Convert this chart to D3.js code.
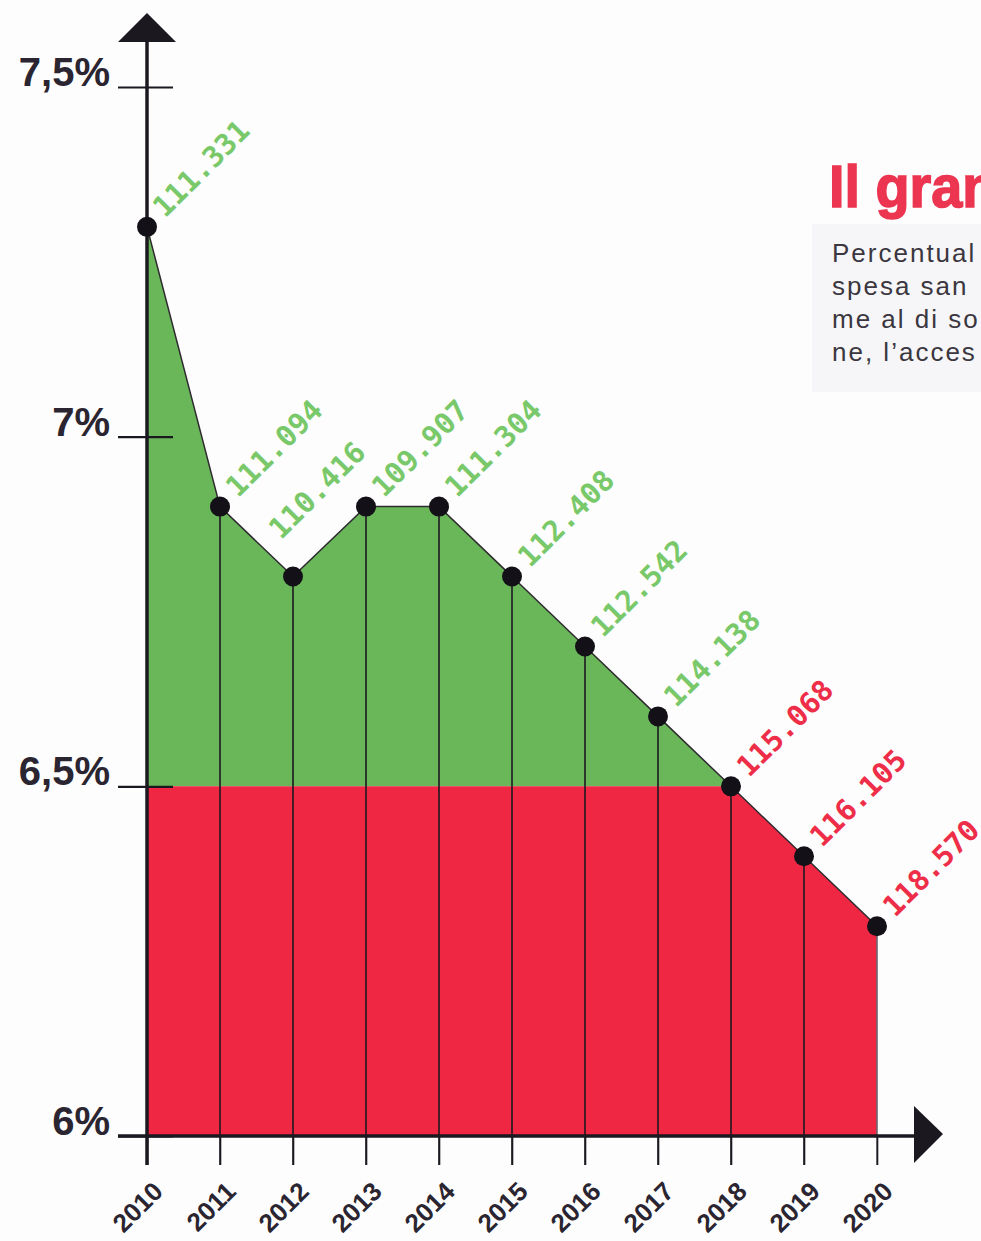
<!DOCTYPE html>
<html>
<head>
<meta charset="utf-8">
<script src="https://cdn.jsdelivr.net/npm/d3@7"></script>
<style>
  html, body { margin: 0; padding: 0; background: #fdfdfd; }
  svg { display: block; }
</style>
</head>
<body>
<svg id="chart" width="981" height="1241"></svg>
<script>
// ---- data ----
const years = ["2010","2011","2012","2013","2014","2015","2016","2017","2018","2019","2020"];
const shares = [7.3, 6.9, 6.8, 6.9, 6.9, 6.8, 6.7, 6.6, 6.5, 6.4, 6.3];
const amounts = ["111.331","111.094","110.416","109.907","111.304","112.408","112.542","114.138","115.068","116.105","118.570"];
const yTicks = [6, 6.5, 7, 7.5];
const yTickLabels = ["6%", "6,5%", "7%", "7,5%"];
const threshold = 6.5;
const titleText = "Il gran";
const subtitleLines = ["Percentual", "spesa san", "me al di so", "ne, l\u2019acces"];

// ---- style ----
const GREEN = "#69b759", RED = "#ef2743";
const GREEN_TXT = "#79c96b", RED_TXT = "#ee2e48";
const INK = "#1c1820";

const svg = d3.select("#chart");
const x = d3.scalePoint().domain(years).range([147, 877]).padding(0);
const y = d3.scaleLinear().domain([6, 7.5]).range([1136, 87]);
const data = years.map((yr, i) => ({ yr, v: shares[i], amt: amounts[i] }));

// faint panel behind subtitle
svg.append("rect").attr("x", 812).attr("y", 224).attr("width", 169).attr("height", 168).attr("fill", "#f6f6f8");

// title & subtitle
svg.append("text").attr("transform", "translate(829,207) scale(0.93,1)")
  .attr("font-family", "'Liberation Sans', Arial, sans-serif")
  .attr("font-weight", "bold").attr("font-size", 60).attr("fill", "#ec3550")
  .attr("stroke", "#ec3550").attr("stroke-width", 1.6)
  .text(titleText);
svg.append("g").selectAll("text").data(subtitleLines).join("text")
  .attr("x", 832).attr("y", (d, i) => 262 + i * 33)
  .attr("font-family", "'Liberation Sans', Arial, sans-serif").attr("font-size", 26)
  .attr("letter-spacing", 2.0).attr("fill", "#3b3640")
  .text(d => d);

// area fills clipped at threshold
const defs = svg.append("defs");
defs.append("clipPath").attr("id", "clipTop").append("rect")
  .attr("x", 0).attr("y", 0).attr("width", 981).attr("height", y(threshold));
defs.append("clipPath").attr("id", "clipBot").append("rect")
  .attr("x", 0).attr("y", y(threshold)).attr("width", 981).attr("height", y(6) - y(threshold));

const area = d3.area().x(d => x(d.yr)).y0(y(6)).y1(d => y(d.v));
svg.append("path").datum(data).attr("d", area).attr("fill", GREEN).attr("clip-path", "url(#clipTop)");
svg.append("path").datum(data).attr("d", area).attr("fill", RED).attr("clip-path", "url(#clipBot)");

// top line
svg.append("path").datum(data)
  .attr("d", d3.line().x(d => x(d.yr)).y(d => y(d.v)))
  .attr("fill", "none").attr("stroke", "#2e2a30").attr("stroke-width", 1.5);

// drop lines
svg.append("g").selectAll("line").data(data).join("line")
  .attr("x1", d => x(d.yr)).attr("x2", d => x(d.yr))
  .attr("y1", d => y(d.v)).attr("y2", y(6) + 29)
  .attr("stroke", (d, i) => i === data.length - 1 ? "#6a6670" : INK)
  .attr("stroke-width", 1.6);

// y axis
const yAxis = d3.axisLeft(y).tickValues(yTicks)
  .tickFormat((d, i) => yTickLabels[i]).tickSize(0);
const gy = svg.append("g").attr("transform", `translate(${x(years[0])},0)`).call(yAxis);
gy.select(".domain").remove();
gy.selectAll(".tick line").attr("x1", -29).attr("x2", 26).attr("stroke", INK).attr("stroke-width", 2.2);
gy.selectAll(".tick text")
  .attr("x", -37).attr("dy", "-0.04em")
  .attr("font-family", "'Liberation Sans', Arial, sans-serif")
  .attr("font-weight", "bold").attr("font-size", 40).attr("fill", "#2a2530");
svg.append("line").attr("x1", x(years[0])).attr("x2", x(years[0]))
  .attr("y1", 40).attr("y2", y(6) + 29).attr("stroke", INK).attr("stroke-width", 3.5);
svg.append("path")
  .attr("d", `M${x(years[0])},13 L${x(years[0]) + 29},42 L${x(years[0]) - 29},42 Z`)
  .attr("fill", INK);

// x axis
const xAxis = d3.axisBottom(x).tickSize(29).tickFormat(d => d);
const gx = svg.append("g").attr("transform", `translate(0,${y(6)})`).call(xAxis);
gx.select(".domain").remove();
gx.selectAll(".tick line").attr("stroke", INK).attr("stroke-width", 1.6);
gx.selectAll(".tick text")
  .attr("text-anchor", "end").attr("dy", 0)
  .attr("transform", "translate(17,57) rotate(-45)")
  .attr("x", 0).attr("y", 0)
  .attr("font-family", "'Liberation Sans', Arial, sans-serif")
  .attr("font-weight", "bold").attr("font-size", 26).attr("fill", "#2a2530");
svg.append("line").attr("x1", 118).attr("x2", 916).attr("y1", y(6)).attr("y2", y(6))
  .attr("stroke", INK).attr("stroke-width", 3.5);
svg.append("path")
  .attr("d", `M943,${y(6) - 2} L914,${y(6) - 30} L914,${y(6) + 27} Z`)
  .attr("fill", INK);

// dots
svg.append("g").selectAll("circle").data(data).join("circle")
  .attr("cx", d => x(d.yr)).attr("cy", d => y(d.v)).attr("r", 10).attr("fill", "#141018");

// value labels
svg.append("g").selectAll("text").data(data).join("text")
  .attr("transform", d => {
    const dx = d.yr === "2012" ? -12 : 18;
    const dy = d.yr === "2012" ? -36 : -8;
    return `translate(${x(d.yr) + dx},${y(d.v) + dy}) rotate(-45)`;
  })
  .attr("font-family", "'DejaVu Sans Mono', monospace")
  .attr("font-weight", "bold").attr("font-size", 29)
  .attr("fill", d => d.v <= threshold ? RED_TXT : GREEN_TXT)
  .text(d => d.amt);
</script>
</body>
</html>
